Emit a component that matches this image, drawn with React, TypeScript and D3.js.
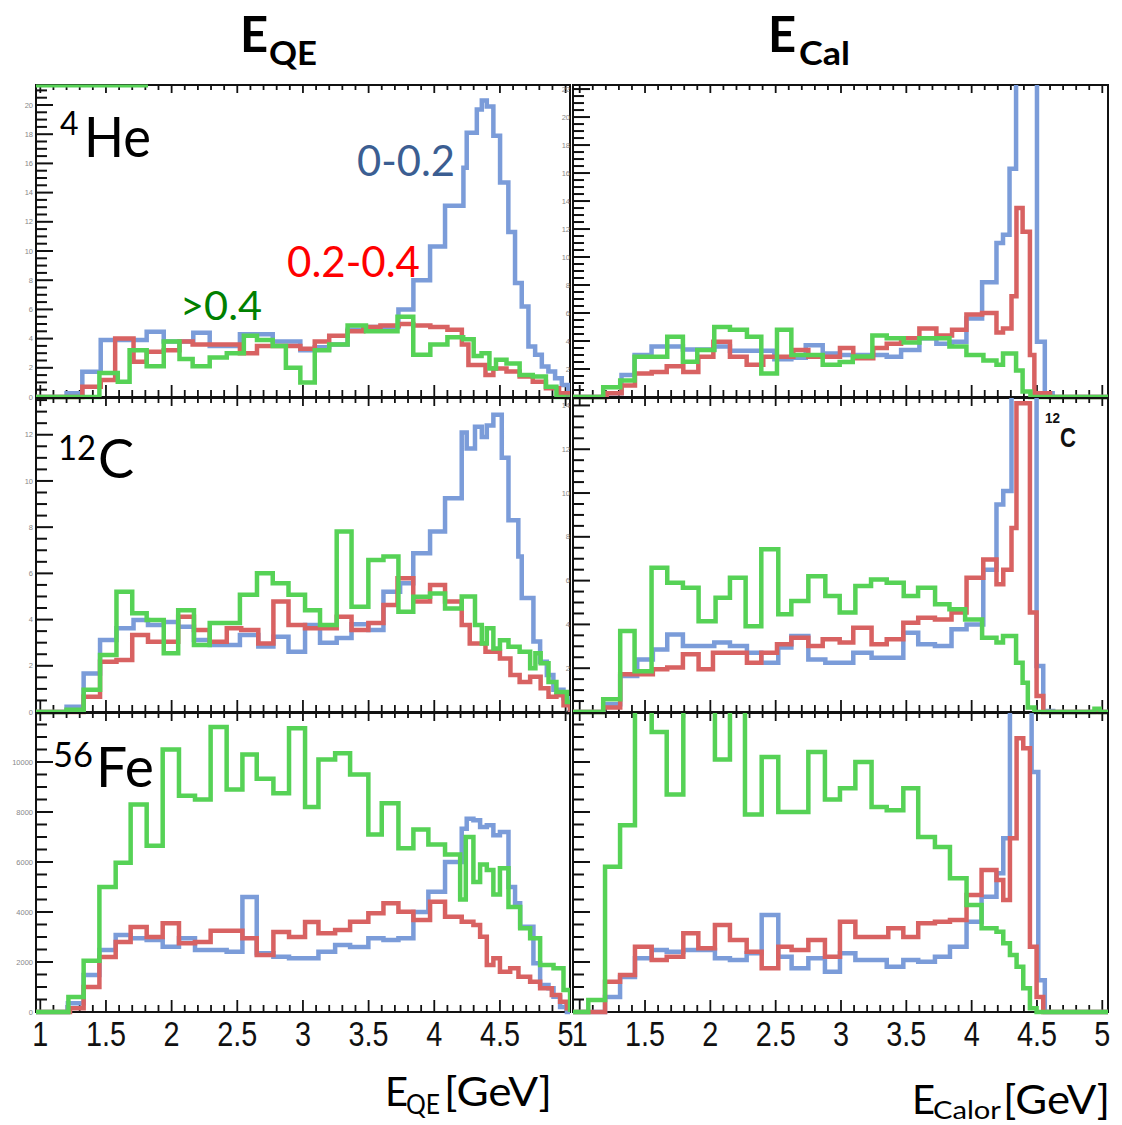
import React from "react";
import * as d3 from "d3";

type Step = [number, number]; // [left edge of bin (GeV), content]

// ---------- 4He, E_QE (counts) ----------
const heQE_blue: Step[] = [[1.2,0.25],[1.32,1.73],[1.46,3.9],[1.81,4.47],[1.94,3.8],[2.165,4.4],[2.29,3.5],[2.52,4.3],[2.77,3.8],[2.98,3.2],[3.09,3.4],[3.2,3.6],[3.34,4.6],[3.48,4.8],[3.727,6.0],[3.841,8.0],[3.968,10.3],[4.082,13.1],[4.222,15.7],[4.247,18.1],[4.324,19.7],[4.362,20.3],[4.4,19.9],[4.45,17.9],[4.501,14.7],[4.564,11.3],[4.615,7.8],[4.666,6.2],[4.717,3.46],[4.768,2.89],[4.819,2.09],[4.869,1.74],[4.92,1.28],[4.971,0.83],[5.02,0.37]];
const heQE_red: Step[] = [[1.32,0.7],[1.46,1.16],[1.57,4.0],[1.71,2.42],[1.81,3.1],[1.94,3.2],[2.06,3.8],[2.16,3.6],[2.52,3.0],[2.65,3.5],[2.98,3.3],[3.09,3.8],[3.2,4.2],[3.34,4.5],[3.46,4.8],[3.59,4.9],[3.73,5.0],[3.84,4.9],[3.97,4.8],[4.1,4.6],[4.21,3.6],[4.26,2.2],[4.39,1.5],[4.45,1.95],[4.55,1.75],[4.65,1.4],[4.75,1.05],[4.85,0.6],[4.95,0.25],[5.02,0]];
const heQE_green: Step[] = [[1.45,1.64],[1.59,1.05],[1.68,3.2],[1.81,2.1],[1.94,3.8],[2.06,2.6],[2.16,2.1],[2.29,2.7],[2.42,3.0],[2.55,4.2],[2.65,3.9],[2.77,3.5],[2.87,2.0],[2.98,1.0],[3.09,3.2],[3.2,3.6],[3.34,4.9],[3.48,4.5],[3.72,5.5],[3.84,2.9],[3.97,3.6],[4.1,4.1],[4.22,3.96],[4.3,2.8],[4.36,3.0],[4.42,1.96],[4.47,2.55],[4.55,2.3],[4.65,1.5],[4.75,1.4],[4.85,0.7],[4.93,0]];

// ---------- 4He, E_Cal ----------
const heCal_blue: Step[] = [[1.19,0.26],[1.32,1.57],[1.42,3.0],[1.55,3.6],[1.79,3.4],[2.03,3.6],[2.15,3.3],[2.49,2.7],[2.62,2.8],[2.73,3.7],[2.86,3.1],[2.99,3.0],[3.25,3.0],[3.35,2.88],[3.46,3.36],[3.6,4.2],[3.73,3.8],[3.85,3.95],[3.96,5.6],[4.08,8.2],[4.19,11.0],[4.24,11.6],[4.29,16.3],[4.34,25],[4.5,3.95],[4.56,0.26],[4.62,0]];
const heCal_red: Step[] = [[1.207,0.26],[1.321,0.83],[1.423,1.67],[1.551,1.79],[1.666,2.2],[1.793,1.79],[1.908,2.88],[2.023,3.95],[2.15,2.88],[2.278,2.3],[2.405,2.88],[2.635,3.36],[2.75,2.88],[2.992,3.5],[3.094,2.76],[3.247,3.5],[3.35,3.8],[3.46,4.2],[3.6,4.9],[3.73,4.4],[3.85,4.8],[3.96,5.9],[4.08,6.0],[4.19,4.6],[4.24,4.9],[4.305,7.2],[4.343,13.5],[4.39,11.8],[4.446,3.0],[4.48,0.26],[4.6,0]];
const heCal_green: Step[] = [[1.18,0.69],[1.31,1.17],[1.42,2.88],[1.67,4.3],[1.79,2.52],[1.9,3.36],[2.03,5.0],[2.15,4.8],[2.28,4.3],[2.39,1.67],[2.51,4.8],[2.62,3.0],[2.86,2.3],[2.99,2.5],[3.09,2.9],[3.24,4.4],[3.35,4.2],[3.48,3.9],[3.6,4.2],[3.83,3.6],[3.96,3.0],[4.09,2.6],[4.19,2.3],[4.24,3.1],[4.34,1.9],[4.39,0.4],[4.45,0]];

// ---------- 12C, E_QE ----------
const cQE_blue: Step[] = [[1.2,0.23],[1.33,1.67],[1.455,3.12],[1.58,3.62],[1.71,3.98],[1.82,3.77],[1.94,3.9],[2.05,3.69],[2.17,3.12],[2.29,2.9],[2.52,3.33],[2.66,2.83],[2.775,3.26],[2.89,2.61],[3.016,3.77],[3.13,3.0],[3.257,3.2],[3.37,3.8],[3.498,3.55],[3.613,5.2],[3.74,5.57],[3.84,6.87],[3.968,7.81],[4.082,9.25],[4.209,12.1],[4.247,11.4],[4.31,12.35],[4.362,11.9],[4.4,12.4],[4.45,12.86],[4.514,11.0],[4.565,8.3],[4.64,6.73],[4.666,4.93],[4.755,3.05],[4.806,2.18],[4.857,1.6],[4.907,0.96],[4.984,0.59],[5.034,0]];
const cQE_red: Step[] = [[1.33,0.66],[1.455,2.18],[1.58,2.25],[1.7,3.33],[1.82,3.04],[2.05,4.12],[2.17,3.55],[2.29,3.04],[2.42,3.62],[2.53,3.55],[2.66,2.97],[2.775,4.78],[2.89,3.77],[3.016,3.62],[3.257,4.12],[3.37,3.55],[3.498,3.85],[3.613,4.63],[3.72,5.79],[3.84,4.78],[3.968,5.5],[4.082,4.78],[4.209,3.77],[4.27,2.97],[4.39,2.61],[4.5,2.32],[4.58,1.6],[4.65,1.3],[4.73,1.53],[4.81,1.03],[4.87,0.66],[4.93,0.72],[4.984,0.29],[5.034,0]];
const cQE_green: Step[] = [[1.2,0.1],[1.33,0.96],[1.455,2.47],[1.58,5.2],[1.7,4.27],[1.81,3.98],[1.94,2.54],[2.05,4.4],[2.17,2.9],[2.29,3.85],[2.52,5.07],[2.65,6.0],[2.77,5.57],[2.89,5.07],[3.016,4.4],[3.13,3.77],[3.257,7.81],[3.37,4.56],[3.498,6.58],[3.613,6.73],[3.727,4.34],[3.84,4.99],[3.968,5.13],[4.082,4.48],[4.209,5.0],[4.31,3.77],[4.362,2.97],[4.4,3.62],[4.45,2.75],[4.5,3.1],[4.565,2.82],[4.65,2.61],[4.73,1.89],[4.77,2.54],[4.81,2.11],[4.87,1.3],[4.93,0.87],[5.01,0.43],[5.05,0]];

// ---------- 12C, E_Cal ----------
const cCal_blue: Step[] = [[1.18,0.35],[1.31,1.64],[1.44,2.4],[1.56,2.86],[1.67,3.54],[1.79,3.01],[2.03,3.17],[2.15,3.01],[2.28,2.71],[2.39,2.25],[2.52,2.94],[2.62,3.47],[2.75,2.4],[2.88,2.25],[3.094,2.71],[3.234,2.48],[3.477,3.62],[3.591,3.09],[3.719,3.01],[3.846,3.78],[3.961,4.0],[4.089,6.5],[4.19,9.48],[4.242,10.09],[4.305,20],[4.497,2.1],[4.548,0.05],[4.624,0]];
const cCal_red: Step[] = [[1.18,0.2],[1.31,1.72],[1.56,1.95],[1.67,2.03],[1.79,2.64],[1.91,1.95],[2.02,2.71],[2.28,2.25],[2.39,2.71],[2.51,3.09],[2.62,3.39],[2.75,3.01],[2.86,3.32],[2.99,3.17],[3.094,3.85],[3.234,3.09],[3.35,3.32],[3.477,4.08],[3.591,4.31],[3.719,4.23],[3.846,4.54],[3.961,6.13],[4.089,6.97],[4.19,5.83],[4.242,6.5],[4.305,8.4],[4.343,14.1],[4.446,4.54],[4.497,0.73],[4.548,0]];
const cCal_green: Step[] = [[1.18,0.58],[1.31,3.7],[1.42,1.86],[1.55,6.59],[1.67,5.9],[1.79,5.68],[1.91,4.15],[2.04,5.22],[2.15,6.13],[2.27,3.92],[2.39,7.43],[2.52,4.46],[2.62,5.07],[2.75,6.2],[2.88,5.3],[2.99,4.54],[3.11,5.75],[3.23,6.05],[3.35,5.9],[3.48,5.3],[3.59,5.68],[3.72,4.92],[3.83,4.69],[3.95,4.23],[4.08,3.39],[4.19,3.17],[4.24,3.47],[4.34,2.25],[4.39,1.34],[4.43,0.2],[4.48,0],[4.94,0.15],[4.98,0]];

// ---------- 56Fe, E_QE (thousands of counts) ----------
const feQE_blue: Step[] = [[1.21,0.35],[1.33,1.48],[1.45,2.48],[1.574,3.08],[1.688,2.95],[1.81,2.88],[1.932,2.61],[2.056,2.95],[2.178,2.48],[2.419,2.41],[2.539,4.6],[2.648,2.35],[2.775,2.21],[2.894,2.15],[3.118,2.41],[3.245,2.68],[3.359,2.6],[3.498,2.95],[3.613,2.88],[3.727,2.95],[3.841,4.0],[3.955,4.81],[4.082,6.0],[4.209,7.33],[4.247,7.73],[4.298,7.67],[4.349,7.4],[4.4,7.47],[4.45,7.07],[4.5,7.2],[4.565,5.0],[4.615,4.35],[4.654,3.41],[4.755,1.95],[4.806,1.08],[4.87,0.95],[4.908,0.61],[4.958,0.2],[5.01,0]];
const feQE_red: Step[] = [[1.226,0.15],[1.33,1.0],[1.45,2.2],[1.574,2.8],[1.688,3.4],[1.81,3.0],[1.932,3.55],[2.056,2.75],[2.178,2.8],[2.297,3.25],[2.539,2.95],[2.648,2.28],[2.775,3.2],[2.894,3.0],[3.016,3.6],[3.118,3.15],[3.245,3.28],[3.359,3.61],[3.498,3.95],[3.613,4.35],[3.727,4.01],[3.841,3.68],[3.968,4.41],[4.082,3.81],[4.209,3.61],[4.298,3.48],[4.349,3.01],[4.4,1.88],[4.45,2.15],[4.5,1.61],[4.578,1.75],[4.641,1.41],[4.73,1.21],[4.806,0.95],[4.895,0.68],[4.958,0.41],[5.01,0.15],[5.034,0]];
const feQE_green: Step[] = [[1.214,0.6],[1.33,2.05],[1.45,5.0],[1.574,5.97],[1.688,8.3],[1.81,6.65],[1.932,10.5],[2.056,8.65],[2.178,8.5],[2.297,11.4],[2.419,8.9],[2.539,10.3],[2.648,9.33],[2.775,8.75],[2.894,11.35],[3.016,8.2],[3.118,10.1],[3.245,10.35],[3.359,9.5],[3.498,7.1],[3.6,8.35],[3.727,6.55],[3.841,7.3],[3.955,6.7],[4.082,6.3],[4.197,4.5],[4.24,7.0],[4.298,5.2],[4.349,5.9],[4.4,5.68],[4.45,4.7],[4.5,5.75],[4.565,4.2],[4.654,3.35],[4.73,2.95],[4.806,1.88],[4.908,1.75],[4.984,0.88],[5.034,0]];

// ---------- 56Fe, E_Cal ----------
const feCal_blue: Step[] = [[1.194,0.6],[1.309,1.4],[1.423,2.15],[1.551,2.48],[1.666,2.41],[1.793,2.48],[2.035,2.15],[2.15,2.08],[2.278,2.35],[2.393,3.88],[2.52,2.21],[2.622,1.75],[2.75,2.15],[2.877,1.61],[2.992,2.35],[3.11,2.08],[3.35,1.81],[3.477,2.08],[3.591,2.01],[3.719,2.21],[3.834,2.61],[3.961,3.61],[4.076,4.61],[4.19,5.55],[4.242,6.95],[4.293,13],[4.459,9.6],[4.51,1.27],[4.56,0]];
const feCal_red: Step[] = [[1.194,1.21],[1.309,1.48],[1.423,2.61],[1.551,2.08],[1.666,2.21],[1.793,3.15],[1.908,2.55],[2.035,3.48],[2.15,2.88],[2.278,2.41],[2.393,1.75],[2.52,2.61],[2.622,2.48],[2.75,2.88],[2.877,2.21],[2.992,3.61],[3.11,3.0],[3.362,3.35],[3.477,3.0],[3.591,3.55],[3.719,3.61],[3.834,3.68],[3.961,4.68],[4.076,5.68],[4.19,5.28],[4.242,4.48],[4.293,6.95],[4.344,10.95],[4.395,10.55],[4.446,2.61],[4.497,0.6],[4.548,0]];
const feCal_green: Step[] = [[1.066,0.48],[1.194,5.81],[1.309,7.47],[1.423,14],[1.551,11.2],[1.666,8.7],[1.793,14],[2.035,10.1],[2.15,14],[2.265,7.9],[2.393,10.2],[2.52,8.0],[2.75,10.4],[2.877,8.5],[2.992,8.95],[3.11,10.0],[3.234,8.2],[3.35,8.07],[3.477,8.95],[3.591,7.0],[3.719,6.6],[3.834,5.35],[3.961,4.28],[4.076,3.35],[4.19,3.21],[4.242,2.75],[4.293,2.28],[4.344,1.81],[4.395,0.95],[4.446,0.15],[4.497,0]];

// ---------- axes ----------
const xTickLabels = ["1", "1.5", "2", "2.5", "3", "3.5", "4", "4.5", "5"];
const yLabelsHeQE = [0, 2, 4, 6, 8, 10, 12, 14, 16, 18, 20];
const yLabelsHeCal = [0, 2, 4, 6, 8, 10, 12, 14, 16, 18, 20, 22];
const yLabelsCQE = [0, 2, 4, 6, 8, 10, 12];
const yLabelsCCal = [0, 2, 4, 6, 8, 10, 12, 14];
const yLabelsFeQE = [0, 2, 4, 6, 8, 10];
const yLabelsFeCal: number[] = [];
const yMaxes = [21.37, 22.29, 13.59, 14.34, 11.96, 11.96];

const COLORS = ["#7b9cd9", "#d86262", "#56d256"];

const columns = [
  { x0: 36, x1: 570, r0: 40.3, r1: 565.6 },
  { x0: 573, x1: 1108, r0: 579.7, r1: 1102.3 },
];
const rows = [
  { y0: 85, y1: 397 },
  { y0: 398, y1: 712 },
  { y0: 713, y1: 1012 },
];

const panels = [
  { col: 0, row: 0, series: [heQE_blue, heQE_red, heQE_green], yLabels: yLabelsHeQE, mult: 1 },
  { col: 1, row: 0, series: [heCal_blue, heCal_red, heCal_green], yLabels: yLabelsHeCal, mult: 1 },
  { col: 0, row: 1, series: [cQE_blue, cQE_red, cQE_green], yLabels: yLabelsCQE, mult: 1 },
  { col: 1, row: 1, series: [cCal_blue, cCal_red, cCal_green], yLabels: yLabelsCCal, mult: 1 },
  { col: 0, row: 2, series: [feQE_blue, feQE_red, feQE_green], yLabels: yLabelsFeQE, mult: 1000 },
  { col: 1, row: 2, series: [feCal_blue, feCal_red, feCal_green], yLabels: yLabelsFeCal, mult: 1000 },
];

const LATO = "Lato, 'Open Sans', sans-serif";
const ARIAL = "'Liberation Sans', Arial, sans-serif";

function PanelView({ p, idx }: { p: (typeof panels)[number]; idx: number }) {
  const c = columns[p.col];
  const r = rows[p.row];
  const xs = d3.scaleLinear().domain([1, 5]).range([c.r0, c.r1]);
  const ys = d3.scaleLinear().domain([0, yMaxes[idx]]).range([r.y1, r.y0]);
  const xMin = xs.invert(c.x0);
  const xMax = xs.invert(c.x1);
  const line = d3
    .line<Step>()
    .x((d) => xs(d[0]))
    .y((d) => ys(d[1]))
    .curve(d3.curveStepAfter);
  const xt = d3.range(10, 51).map((i) => ({ v: i / 10, major: i % 5 === 0 }));
  const yt = d3.range(0, Math.floor(yMaxes[idx] * 2) + 1).map((i) => ({ v: i / 2, major: i % 4 === 0 }));
  const clipId = `clip${idx}`;
  return (
    <g>
      <defs>
        <clipPath id={clipId}>
          <rect x={c.x0} y={r.y0} width={c.x1 - c.x0} height={r.y1 - r.y0 + 3} />
        </clipPath>
      </defs>
      <rect x={c.x0} y={r.y0} width={c.x1 - c.x0} height={r.y1 - r.y0} fill="none" stroke="#111" strokeWidth={2} />
      {xt.map((t, i) => (
        <g key={"xt" + i}>
          <line x1={xs(t.v)} x2={xs(t.v)} y1={r.y1} y2={r.y1 - (t.major ? 12 : 7)} stroke="#111" strokeWidth={1.8} />
          <line x1={xs(t.v)} x2={xs(t.v)} y1={r.y0} y2={r.y0 + (t.major ? 8 : 5)} stroke="#111" strokeWidth={1.8} />
        </g>
      ))}
      {yt.map((t, i) => (
        <line key={"yt" + i} x1={c.x0 - 1} x2={c.x0 + (t.major ? 17 : 11)} y1={ys(t.v)} y2={ys(t.v)} stroke="#111" strokeWidth={2} />
      ))}
      {p.yLabels.map((v) => (
        <text key={"yl" + v} x={c.x0 - 3} y={ys(v)} dy="0.35em" textAnchor="end" fontSize={7.5} fill="#888" fontFamily={ARIAL}>
          {String(v * p.mult)}
        </text>
      ))}
      <g clipPath={`url(#${clipId})`}>
        {p.series.map((s, si) => {
          const pts: Step[] = [[xMin, 0], ...s, [xMax, s[s.length - 1][1]]];
          return (
            <path key={"s" + si} d={line(pts) || ""} fill="none" stroke={COLORS[si]} strokeWidth={4.5} strokeLinejoin="miter" />
          );
        })}
      </g>
      {p.row === 2 &&
        xTickLabels.map((lab, i) => (
          <text
            key={"xl" + i}
            transform={`translate(${xs(+lab)},1046) scale(0.8,1)`}
            textAnchor="middle"
            fontSize={36}
            fontFamily={ARIAL}
            fill="#111"
          >
            {lab}
          </text>
        ))}
    </g>
  );
}

export default function App() {
  return (
    <svg
      width={1122}
      height={1125}
      viewBox="0 0 1122 1125"
      style={{ position: "absolute", left: 0, top: 0, display: "block", background: "#fff" }}
    >
      <rect x={0} y={0} width={1122} height={1125} fill="#fff" />
      {panels.map((p, i) => (
        <PanelView key={i} p={p} idx={i} />
      ))}
      {/* trace of the panel above along the top border */}
      <line x1={36} x2={148} y1={86} y2={86} stroke={COLORS[2]} strokeWidth={3} />

      {/* column titles */}
      <g fontFamily={LATO} fontWeight="bold" fill="#000">
        <text x={240} y={52} fontSize={49}>E</text>
        <text x={269} y={65} fontSize={32} textLength={48} lengthAdjust="spacingAndGlyphs">QE</text>
        <text x={768} y={52} fontSize={49}>E</text>
        <text x={799} y={65} fontSize={32} textLength={51} lengthAdjust="spacingAndGlyphs">Cal</text>
      </g>

      {/* nucleus labels */}
      <g fontFamily={LATO} fill="#000">
        <text x={60} y={135} fontSize={32}>4</text>
        <text x={84} y={157} fontSize={56} textLength={67} lengthAdjust="spacingAndGlyphs">He</text>
        <text x={58} y={460} fontSize={34} textLength={38} lengthAdjust="spacingAndGlyphs">12</text>
        <text x={98} y={478} fontSize={54}>C</text>
        <text x={53} y={767} fontSize={34} textLength={40} lengthAdjust="spacingAndGlyphs">56</text>
        <text x={96} y={787} fontSize={56} textLength={58} lengthAdjust="spacingAndGlyphs">Fe</text>
      </g>

      {/* series labels */}
      <g fontFamily={LATO}>
        <text x={357} y={176} fontSize={42} fill="#3b5e92" textLength={98} lengthAdjust="spacingAndGlyphs">0-0.2</text>
        <text x={287} y={277} fontSize={42} fill="#ff0000" textLength={133} lengthAdjust="spacingAndGlyphs">0.2-0.4</text>
        <text x={180} y={320} fontSize={40} fill="#008000" textLength={82} lengthAdjust="spacingAndGlyphs">&gt;0.4</text>
      </g>

      {/* 12C tag in the right middle panel */}
      <g fontFamily={ARIAL} fontWeight="bold" fill="#111">
        <text x={1045} y={423} fontSize={14} textLength={15} lengthAdjust="spacingAndGlyphs">12</text>
        <text x={1060} y={447} fontSize={28} textLength={16} lengthAdjust="spacingAndGlyphs">C</text>
      </g>

      {/* axis titles */}
      <g fontFamily={LATO} fill="#000">
        <text x={385} y={1106} fontSize={40}>E</text>
        <text x={406} y={1114} fontSize={26} textLength={34} lengthAdjust="spacingAndGlyphs">QE</text>
        <text x={444} y={1106} fontSize={40} textLength={108} lengthAdjust="spacingAndGlyphs">[GeV]</text>
        <text x={912} y={1114} fontSize={40}>E</text>
        <text x={933} y={1119} fontSize={25} textLength={68} lengthAdjust="spacingAndGlyphs">Calor</text>
        <text x={1003} y={1114} fontSize={40} textLength={107} lengthAdjust="spacingAndGlyphs">[GeV]</text>
      </g>
    </svg>
  );
}
